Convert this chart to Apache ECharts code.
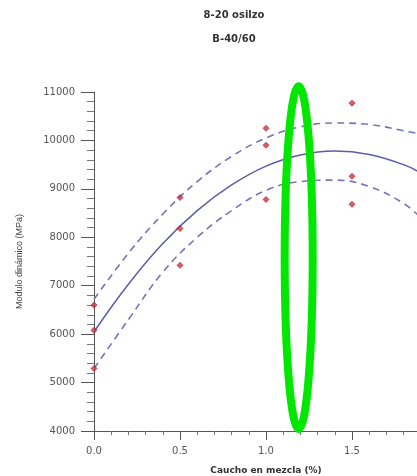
<!DOCTYPE html>
<html>
<head>
<meta charset="utf-8">
<script src="https://cdn.jsdelivr.net/npm/echarts@6/dist/echarts.min.js"></script>
<style>html,body{margin:0;padding:0;background:#fff}#c{width:417px;height:476px}</style>
</head>
<body>
<div id="c"></div>
<script>
// Observed points
var obsX = [0, 0, 0, 0.5, 0.5, 0.5, 1.0, 1.0, 1.0, 1.5, 1.5, 1.5];
var obsY = [6600, 6080, 5290, 8820, 8180, 7420, 10250, 9900, 8780, 10770, 9260, 8680];
// Fitted curve and confidence bands
var fitX   = [0, 0.2, 0.4, 0.6, 0.8, 1.0, 1.2, 1.4, 1.6, 1.8, 1.9];
var fitY   = [6050, 7030, 7870, 8550, 9080, 9470, 9700, 9780, 9710, 9500, 9330];
var upperY = [6720, 7670, 8480, 9150, 9670, 10050, 10280, 10360, 10330, 10200, 10130];
var lowerY = [5290, 6300, 7280, 8000, 8550, 8970, 9150, 9180, 9050, 8700, 8400];
var yTicks = [4000, 11000, 1000];
var xTicks = [0, 2, 0.5];
var titleLines = ['8-20 osilzo', 'B-40/60'];
var xName = 'Caucho en mezcla (%)';
var yName = 'Modulo dinámico (MPa)';

function pairs(xs, ys){ return xs.map(function(x,i){ return [x, ys[i]]; }); }

var chart = echarts.init(document.getElementById('c'), null, {renderer:'canvas'});
var lineCol = '#5c5caa';
var dashCol = '#7474b8';
chart.setOption({
  animation: false,
  backgroundColor: '#fff',
  title: [
    {text: titleLines[0], left: 229, top: 5, textAlign: 'center',
     textStyle:{fontFamily:'DejaVu Sans', fontWeight:'bold', fontSize:10, color:'#333'}},
    {text: titleLines[1], left: 229, top: 29, textAlign: 'center',
     textStyle:{fontFamily:'DejaVu Sans', fontWeight:'bold', fontSize:10, color:'#333'}}
  ],
  grid: {left: 94, top: 92, width: 344, bottom: 45, containLabel: false, outerBoundsMode: 'none'},
  xAxis: {
    type: 'value', min: xTicks[0], max: xTicks[1], interval: xTicks[2],
    name: xName, nameLocation: 'middle', nameGap: 35,
    nameTextStyle: {fontFamily:'DejaVu Sans', fontWeight:'bold', fontSize:9, color:'#333'},
    axisLine: {lineStyle:{color:'#555', width:1}},
    axisTick: {length: 9, lineStyle:{color:'#555'}},
    minorTick: {show: true, splitNumber: 5, length: 4, lineStyle:{color:'#777'}},
    splitLine: {show:false},
    axisLabel: {fontFamily:'DejaVu Sans', fontSize:10, color:'#555', margin: 15,
      formatter: function(v){ return v.toFixed(1); }}
  },
  yAxis: {
    type: 'value', min: yTicks[0], max: yTicks[1], interval: yTicks[2],
    name: yName, nameLocation: 'middle', nameGap: 70,
    nameTextStyle: {fontFamily:'Liberation Sans', fontSize:9, color:'#444'},
    axisLine: {show:true, lineStyle:{color:'#555', width:1}},
    axisTick: {length: 13, lineStyle:{color:'#555'}},
    minorTick: {show: true, splitNumber: 5, length: 7, lineStyle:{color:'#777'}},
    splitLine: {show:false},
    axisLabel: {fontFamily:'DejaVu Sans', fontSize:10, color:'#555', margin: 19,
      formatter: function(v){ return String(v); }}
  },
  series: [
    {type:'line', data: pairs(fitX, upperY), smooth: 0.4, symbol:'none', clip: true,
     lineStyle:{color:dashCol, width:1.6, type:[7,5]}},
    {type:'line', data: pairs(fitX, lowerY), smooth: 0.4, symbol:'none', clip: true,
     lineStyle:{color:dashCol, width:1.6, type:[7,5]}},
    {type:'line', data: pairs(fitX, fitY), smooth: 0.4, symbol:'none', clip: true,
     lineStyle:{color:lineCol, width:1.5}},
    {type:'scatter', data: pairs(obsX, obsY), symbol:'diamond', symbolSize: 6,
     itemStyle:{color:'#d8343e', borderColor:'#8a1a28', borderWidth:0.8}, z: 5}
  ]
});

// green annotation ellipse around x≈1.19
var pTop = chart.convertToPixel({gridIndex:0}, [1.19, 11120]);
var pBot = chart.convertToPixel({gridIndex:0}, [1.19, 4040]);
chart.setOption({
  graphic: [{
    type: 'ellipse', z: 100,
    shape: {cx: pTop[0], cy: (pTop[1]+pBot[1])/2, rx: 14, ry: (pBot[1]-pTop[1])/2},
    style: {fill: 'none', stroke: '#00e800', lineWidth: 8}
  }]
});
</script>
</body>
</html>
